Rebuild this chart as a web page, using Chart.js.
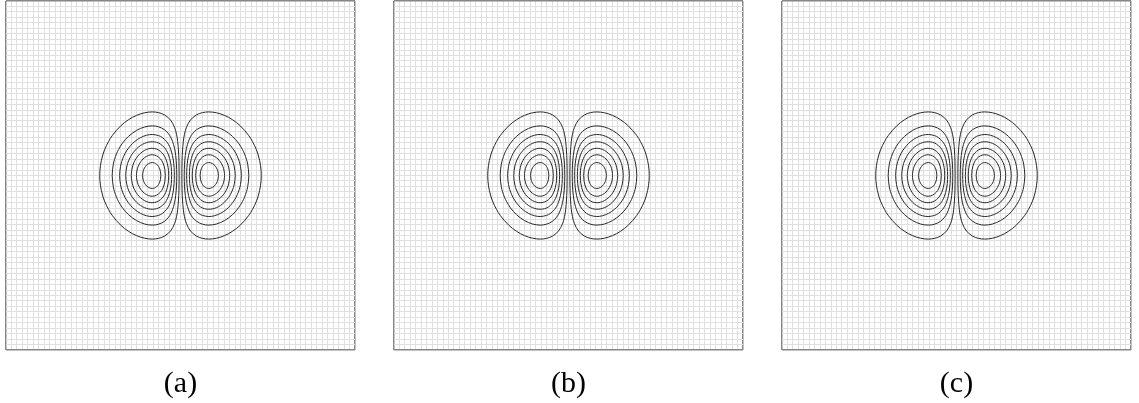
<!DOCTYPE html>
<html>
<head>
<meta charset="utf-8">
<script src="https://cdn.jsdelivr.net/npm/chart.js@4.4.1/dist/chart.umd.min.js"></script>
<style>
  html, body { margin: 0; padding: 0; background: #fff; overflow: hidden; }
  body { width: 1139px; height: 403px; position: relative; }
  .panel { position: absolute; top: 0; width: 363px; height: 403px; }
</style>
</head>
<body>
<div class="panel" style="left:-4px"><canvas id="panelA"></canvas></div>
<div class="panel" style="left:384px"><canvas id="panelB"></canvas></div>
<div class="panel" style="left:772px"><canvas id="panelC"></canvas></div>
<script>
// mesh: 64 x 64 cells, centred on 0
const meshMin = -32;
const meshMax = 32;
const meshStep = 1;

const panelLabels = ['(a)', '(b)', '(c)'];

// contour lines, upper half of the right-hand lobe, [x, y] in mesh units
// (inner edge first, outer edge last); the rest follows by symmetry
const level1 = [[0.25,0],[0.26,1.00],[0.29,2.86],[0.37,4.49],[0.51,6.18],[0.73,7.56],[1.10,8.84],[1.83,10.17],[2.93,11.11],[4.03,11.53],[5.19,11.66],[6.60,11.50],[8.07,11.02],[9.54,10.23],[11.00,9.07],[12.47,7.38],[13.20,6.23],[13.94,4.67],[14.30,3.58],[14.67,1.88],[14.81,0]];
const level2 = [[0.68,0],[0.70,1.06],[0.73,1.96],[0.88,3.66],[1.10,5.00],[1.47,6.29],[1.83,7.09],[2.20,7.66],[2.93,8.39],[4.03,8.93],[5.19,9.10],[6.60,8.89],[8.07,8.26],[9.54,7.17],[10.64,5.93],[11.37,4.75],[11.74,3.98],[12.10,2.95],[12.32,2.08],[12.53,0]];
const level3 = [[1.13,0],[1.17,1.44],[1.32,2.83],[1.47,3.65],[1.83,4.91],[2.20,5.69],[2.57,6.24],[3.30,6.94],[4.03,7.32],[5.19,7.52],[6.23,7.38],[7.34,6.94],[8.44,6.20],[9.17,5.47],[9.90,4.49],[10.42,3.52],[10.78,2.55],[11.00,1.67],[11.16,0]];
const level4 = [[1.62,0],[1.69,1.42],[1.83,2.44],[2.20,3.78],[2.57,4.56],[2.93,5.10],[3.67,5.76],[4.40,6.09],[5.19,6.19],[5.87,6.12],[6.60,5.89],[7.34,5.49],[8.07,4.89],[8.80,4.03],[9.17,3.44],[9.54,2.66],[9.83,1.75],[10.04,0]];
const level5 = [[2.16,0],[2.20,0.89],[2.27,1.49],[2.42,2.22],[2.71,3.09],[3.08,3.77],[3.67,4.43],[4.40,4.85],[5.19,4.99],[5.87,4.90],[6.60,4.60],[7.34,4.07],[7.92,3.43],[8.36,2.74],[8.73,1.89],[9.03,0]];
const level6 = [[2.78,0],[2.86,1.06],[3.01,1.72],[3.30,2.47],[3.67,3.04],[4.40,3.62],[5.19,3.80],[5.87,3.68],[6.60,3.27],[7.11,2.77],[7.48,2.24],[7.78,1.63],[8.00,0.82],[8.07,0]];
const level7 = [[3.60,0],[3.67,0.69],[3.81,1.22],[4.03,1.67],[4.40,2.09],[4.77,2.30],[5.19,2.38],[5.50,2.34],[5.87,2.19],[6.23,1.90],[6.60,1.40],[6.82,0.88],[6.95,0]];

const levels = [level1, level2, level3, level4, level5, level6, level7];

const gridColor = 'rgb(224,224,224)';
const frameColor = 'rgb(135,135,135)';
const lineColor = '#262626';

// closed loop: top half out, bottom half back; side = 1 right lobe, -1 left lobe
function closedLoop(half, side) {
  const upper = half.map(p => ({ x: side * p[0], y: p[1] }));
  const lower = half.slice(0, -1).reverse().map(p => ({ x: side * p[0], y: -p[1] }));
  return upper.concat(lower);
}

function meshAxis(title) {
  const axis = {
    type: 'linear',
    min: meshMin,
    max: meshMax,
    ticks: { display: false, stepSize: meshStep },
    grid: {
      drawTicks: false,
      color: c => (Math.abs(c.tick.value) === meshMax ? frameColor : gridColor),
      lineWidth: c => (Math.abs(c.tick.value) === meshMax ? 1.5 : 1),
    },
    border: { display: false },
  };
  if (title) {
    axis.title = {
      display: true,
      text: title,
      color: '#000',
      font: { family: '"Liberation Serif", "DejaVu Serif", serif', size: 30 },
      padding: { top: 16, bottom: 1 },
    };
  }
  return axis;
}

function drawPanel(id, label) {
  const datasets = [];
  levels.forEach(half => {
    [-1, 1].forEach(side => {
      datasets.push({
        data: closedLoop(half, side),
        showLine: true,
        borderColor: lineColor,
        borderWidth: 1,
        pointRadius: 0,
        tension: 0.35,
      });
    });
  });

  new Chart(document.getElementById(id), {
    type: 'scatter',
    data: { datasets: datasets },
    options: {
      responsive: true,
      maintainAspectRatio: false,
      animation: false,
      devicePixelRatio: 1,
      layout: { padding: { left: 10, right: 4, top: 1, bottom: 0 } },
      plugins: { legend: { display: false }, tooltip: { enabled: false } },
      scales: {
        x: meshAxis(label),
        y: meshAxis(null),
      },
    },
  });
}

drawPanel('panelA', panelLabels[0]);
drawPanel('panelB', panelLabels[1]);
drawPanel('panelC', panelLabels[2]);
</script>
</body>
</html>
